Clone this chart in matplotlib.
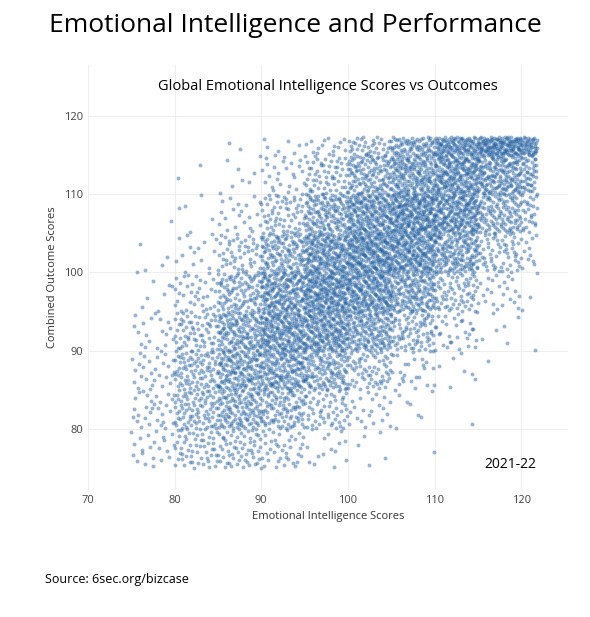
import numpy as np
import matplotlib.pyplot as plt

plt.rcParams['font.family'] = ['Open Sans', 'DejaVu Sans']

# point counts per 5x5 cell (rows top to bottom)
x_bins = [75, 80, 85, 90, 95, 100, 105, 110, 115, 120]
y_bins = [115, 110, 105, 100, 95, 90, 85, 80, 75]
y_tops = [117.3, 115, 110, 105, 100, 95, 90, 85, 80]
counts = [
    [0, 0, 2, 6, 15, 35, 70, 110, 140, 45],
    [0, 2, 8, 25, 60, 120, 175, 210, 170, 45],
    [1, 5, 20, 60, 130, 200, 240, 210, 120, 25],
    [4, 15, 50, 120, 200, 240, 220, 150, 60, 10],
    [8, 35, 95, 180, 230, 210, 150, 70, 22, 3],
    [18, 65, 140, 200, 200, 150, 80, 30, 6, 1],
    [28, 85, 150, 160, 120, 65, 25, 7, 1, 0],
    [30, 85, 120, 95, 55, 22, 7, 1, 0, 0],
    [22, 55, 60, 38, 15, 5, 1, 0, 0, 0],
]
x_right = 121.8


def halton(i, base):
    f, r = 1.0, 0.0
    while i > 0:
        f /= base
        r += f * (i % base)
        i //= base
    return r


xs, ys = [], []
k = 1
for r, row in enumerate(counts):
    for c, n in enumerate(row):
        x0 = x_bins[c]
        x1 = min(x0 + 5, x_right)
        y0, y1 = y_bins[r], y_tops[r]
        for _ in range(n):
            xs.append(x0 + halton(k, 2) * (x1 - x0))
            ys.append(y0 + halton(k, 3) * (y1 - y0))
            k += 1

fig = plt.figure(figsize=(5.9, 6.17), dpi=100)
ax = fig.add_axes([0.149, 0.206, 0.814, 0.689])
ax.scatter(xs, ys, s=8, color='#1a5a9e', alpha=0.45, linewidths=0)

ax.set_xlim(70, 125.4)
ax.set_ylim(72.2, 126.5)
ax.set_xticks([70, 80, 90, 100, 110, 120])
ax.set_yticks([80, 90, 100, 110, 120])
ax.grid(True, color='#eeeeee', linewidth=0.8)
ax.set_axisbelow(True)
for s in ax.spines.values():
    s.set_visible(False)
ax.tick_params(length=0, labelsize=8, colors='#444444')
ax.set_xlabel('Emotional Intelligence Scores', fontsize=8, color='#333333')
ax.set_ylabel('Combined Outcome Scores', fontsize=8, color='#333333')

ax.text(0.5, 0.95, 'Global Emotional Intelligence Scores vs Outcomes',
        transform=ax.transAxes, ha='center', va='center', fontsize=10.5)
ax.text(0.88, 0.06, '2021-22', transform=ax.transAxes, ha='center',
        va='center', fontsize=10)

fig.text(0.5, 0.958, 'Emotional Intelligence and Performance',
         ha='center', va='center', fontsize=19)
fig.text(0.076, 0.06, 'Source: 6sec.org/bizcase', ha='left', va='center',
         fontsize=9)

fig.savefig('out.png', dpi=100)
